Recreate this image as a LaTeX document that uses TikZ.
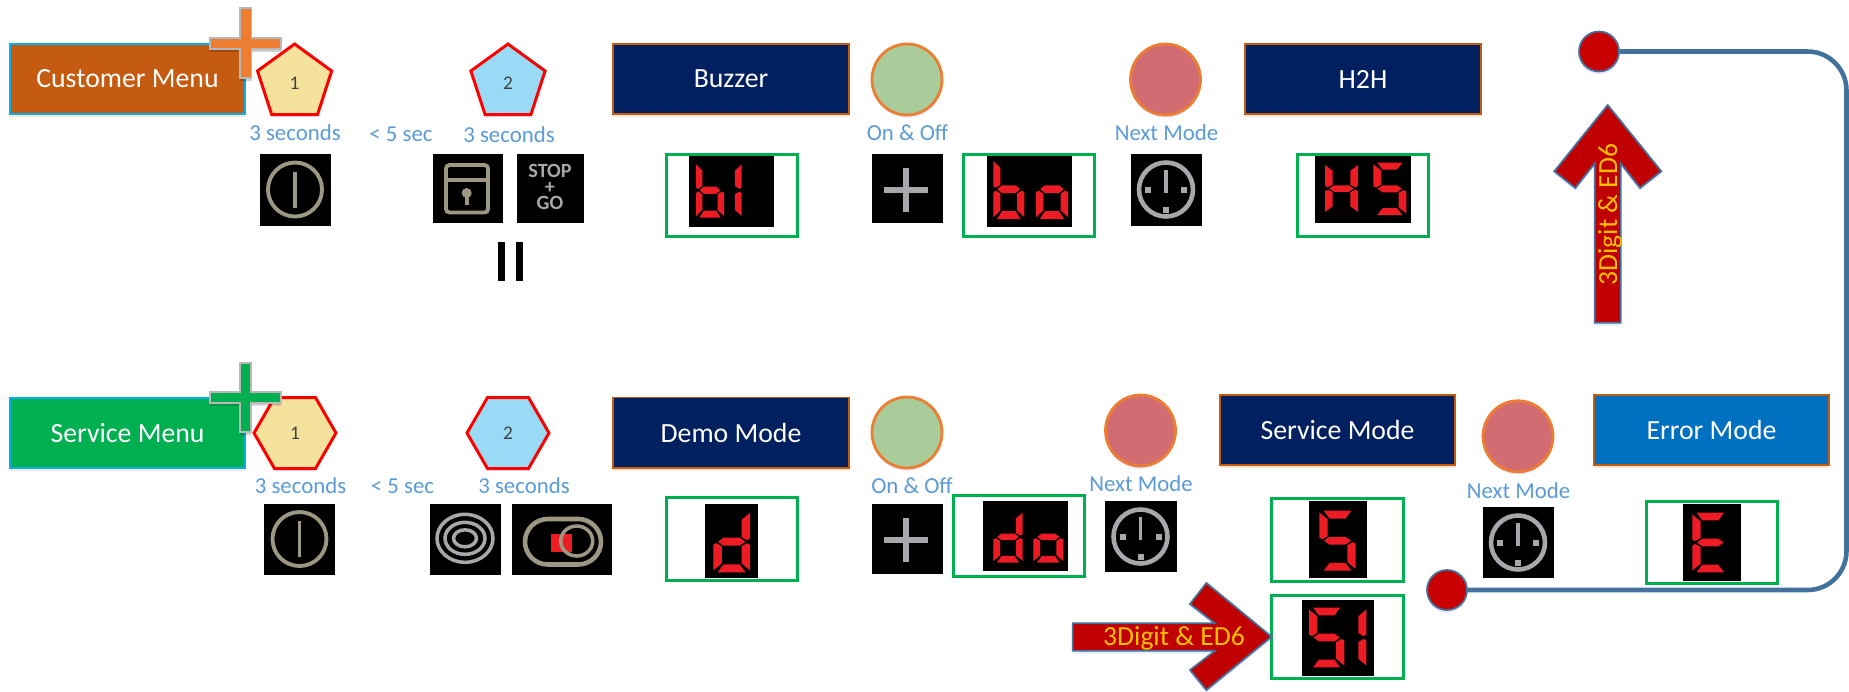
\documentclass[tikz,border=0pt]{standalone}
\usepackage{xcolor}
\usepackage{fontspec}
\setmainfont{Carlito}
\usepackage{tikz}
\usetikzlibrary{shapes,shadows}

\definecolor{custfill}{HTML}{C55A11}
\definecolor{servfill}{HTML}{00B050}
\definecolor{navyfill}{HTML}{002060}
\definecolor{errfill}{HTML}{0070C0}
\definecolor{menuline}{HTML}{00B0F0}
\definecolor{plusorange}{HTML}{ED7D31}
\definecolor{yellowfill}{HTML}{F4E29D}
\definecolor{bluefill}{HTML}{99DBF6}
\definecolor{greenfill}{HTML}{A9CC9A}
\definecolor{rosefill}{HTML}{D16D72}
\definecolor{labelblue}{HTML}{5B9BD5}
\definecolor{steelline}{HTML}{41719C}
\definecolor{arrowred}{HTML}{C00000}
\definecolor{arrowtext}{HTML}{FFC000}
\definecolor{dotred}{HTML}{C80000}
\definecolor{segred}{HTML}{ED1C24}
\definecolor{icontan}{HTML}{9C9884}
\definecolor{icongray}{HTML}{A8A8AC}

\tikzset{
    softshadow/.style={drop shadow={shadow xshift=0pt,shadow yshift=-1.6pt,opacity=.18,fill=#1}},
    menubox/.style={draw=menuline,line width=1pt,text=white,font=\fontsize{15.8}{18}\selectfont,softshadow=orange},
    modebox/.style={draw=custfill,line width=1pt,text=white,font=\fontsize{15.8}{18}\selectfont,softshadow=orange},
    crossbar/.style={draw=black!28,line width=1pt,softshadow=black},
    keypoly/.style={regular polygon,draw=red,line width=1.7pt,inner sep=0pt,text=black!75,font=\fontsize{11}{13}\selectfont,softshadow=blue!50},
    keycircle/.style={ellipse,draw=plusorange,line width=1.6pt,minimum width=1.4cm,minimum height=1.42cm,inner sep=0pt,softshadow=blue!50},
    timelabel/.style={text=labelblue,inner sep=0pt,font=\fontsize{13}{15}\selectfont},
    iconbg/.style={fill=black},
    iconline/.style={draw=#1,line width=2.2pt},
    greenframe/.style={draw=servfill,line width=1.7pt},
    dotnode/.style={circle,draw=steelline,fill=dotred,line width=1pt,minimum size=.8cm,inner sep=0pt,softshadow=blue!50},
    bigarrow/.style={draw=steelline,fill=arrowred,line width=1pt,softshadow=blue!50},
    arrowlabel/.style={text=arrowtext,inner sep=0pt,font=\fontsize{15.7}{18}\selectfont},
    linkline/.style={draw=steelline,line width=2.6pt,rounded corners=.78cm},
}

% segments of a display digit, 10 wide and 20 high
\newcommand{\sega}{\fill[segred] (1.2,0) -- (8.8,0) -- (7.2,2.6) -- (2.8,2.6) -- cycle;}
\newcommand{\segb}{\fill[segred] (10,.6) -- (7.7,2.9) -- (7.7,8.5) -- (9.2,9.5) -- (10,9) -- cycle;}
\newcommand{\segc}{\fill[segred] (9.2,10.5) -- (7.7,11.5) -- (7.7,17.1) -- (10,19.4) -- (10,11) -- cycle;}
\newcommand{\segd}{\fill[segred] (2.8,17.4) -- (7.2,17.4) -- (8.8,20) -- (1.2,20) -- cycle;}
\newcommand{\sege}{\fill[segred] (.8,10.5) -- (2.3,11.5) -- (2.3,17.1) -- (0,19.4) -- (0,11) -- cycle;}
\newcommand{\segf}{\fill[segred] (0,.6) -- (2.3,2.9) -- (2.3,8.5) -- (.8,9.5) -- (0,9) -- cycle;}
\newcommand{\segg}{\fill[segred] (1.3,10) -- (2.8,8.7) -- (7.2,8.7) -- (8.7,10) -- (7.2,11.3) -- (2.8,11.3) -- cycle;}
\newcommand{\segdigit}[5]{
    \begin{scope}[shift={(#1,#2)},xscale=#3/10,yscale=#4/20]
        \foreach \s in {#5} {\csname seg\s\endcsname}
    \end{scope}
}
\newcommand{\powericon}[2]{
    \draw[iconline=icontan] (#1,#2) circle (27);
    \draw[iconline=icontan] (#1,#2-18) -- (#1,#2+18);
}
\newcommand{\clockicon}[2]{
    \draw[iconline=icongray,line width=2.6pt] (#1,#2) circle (27);
    \draw[iconline=icongray] (#1,#2-20) -- (#1,#2+3);
    \fill[icongray] (#1-21,#2-3) rectangle (#1-15,#2+3);
    \fill[icongray] (#1+15,#2-3) rectangle (#1+21,#2+3);
    \fill[icongray] (#1-3,#2+17) rectangle (#1+3,#2+23);
}
\newcommand{\plusicon}[2]{
    \draw[draw=icongray,line width=3.4pt] (#1-22,#2) -- (#1+22,#2);
    \draw[draw=icongray,line width=3.4pt] (#1,#2-22) -- (#1,#2+22);
}

\begin{document}
\begin{tikzpicture}[x=0.02cm,y=-0.02cm]
    \useasboundingbox (0,0) rectangle (1849,691);

    % customer row
    \draw[menubox,fill=custfill] (10,44) rectangle (245,114) node[pos=.5] (custmenu) {Customer Menu};
    \node[keypoly,regular polygon sides=5,minimum size=1.56cm,fill=yellowfill] (custkeya) at (294.6,83) {1};
    \node[keypoly,regular polygon sides=5,minimum size=1.56cm,fill=bluefill] (custkeyb) at (508,83) {2};
    \draw[crossbar,fill=plusorange] (240,8.3) -- (251.5,8.3) -- (251.5,38) -- (281,38) -- (281,49) -- (251.5,49)
        -- (251.5,78.3) -- (240,78.3) -- (240,49) -- (210,49) -- (210,38) -- (240,38) -- cycle;

    \node[timelabel] (custseca) at (295,132.5) {3 seconds};
    \node[timelabel] (custshort) at (401,134.5) {< 5 sec};
    \node[timelabel] (custsecb) at (509,135) {3 seconds};

    \draw[iconbg] (260,154) rectangle (330,225) node[pos=.5] (custpower) {};
    \powericon{295}{189.5}
    \draw[iconbg] (433,154) rectangle (502,222) node[pos=.5] (custlock) {};
    \draw[iconline=icontan,rounded corners=2pt] (446,165) rectangle (488,212.5);
    \draw[iconline=icontan] (446,180) -- (488,180);
    \fill[icontan] (466.7,193) circle (5);
    \draw[iconline=icontan] (466.7,193) -- (466.7,205);
    \draw[iconbg] (517,154) rectangle (583,222) node[pos=.5,yshift=.5pt,align=center,text=icongray,inner sep=0pt,
        font=\fontsize{11.5}{9}\selectfont\bfseries] (custstop) {STOP\\+\\GO};
    \fill[black] (498,242) rectangle (505,281);
    \fill[black] (516,242) rectangle (523,281);

    \draw[modebox,fill=navyfill] (613,44) rectangle (849,114) node[pos=.5] (buzzer) {Buzzer};
    \draw[greenframe] (666,154) rectangle (797,236.5) node[pos=.5] (buzzframe) {};
    \draw[iconbg] (689,156) rectangle (773,226) node[pos=.5] (buzzshow) {};
    \segdigit{696}{162.7}{28}{55}{e,f,g,c,d}
    \segdigit{711.7}{162.7}{30}{55}{b,c}

    \node[keycircle,fill=greenfill] (buzzkey) at (907,79.5) {};
    \node[timelabel] (buzzonoff) at (907.5,132.5) {On \& Off};
    \draw[iconbg] (872,154) rectangle (942,222.5) node[pos=.5] (buzzplus) {};
    \plusicon{906}{190}

    \draw[greenframe] (963,154) rectangle (1094,236.5) node[pos=.5] (boframe) {};
    \draw[iconbg] (987,156) rectangle (1071,226) node[pos=.5] (boshow) {};
    \segdigit{993.3}{159.3}{31}{59.7}{e,f,g,c,d}
    \segdigit{1036}{159.3}{32}{59.7}{g,c,d,e}

    \node[keycircle,fill=rosefill] (custnext) at (1165.5,79.5) {};
    \node[timelabel] (custnexttext) at (1166.5,132.5) {Next Mode};
    \draw[iconbg] (1131,154) rectangle (1201,225) node[pos=.5] (custclock) {};
    \clockicon{1166}{189.5}

    \draw[modebox,fill=navyfill] (1245,44) rectangle (1481,114) node[pos=.5] (htoh) {H2H};
    \draw[greenframe] (1297.5,154) rectangle (1428,236) node[pos=.5] (hframe) {};
    \draw[iconbg] (1315,156) rectangle (1410.7,222) node[pos=.5] (hshow) {};
    \segdigit{1325}{163.5}{33}{50}{b,c,e,f,g}
    \segdigit{1373.3}{162.7}{33}{52.3}{a,f,g,c,d}

    % service row
    \draw[menubox,fill=servfill] (10,397.7) rectangle (245,468) node[pos=.5] (servmenu) {Service Menu};
    \node[keypoly,regular polygon sides=6,minimum size=1.64cm,fill=yellowfill] (servkeya) at (295,433) {1};
    \node[keypoly,regular polygon sides=6,minimum size=1.64cm,fill=bluefill] (servkeyb) at (508,433) {2};
    \draw[crossbar,fill=servfill] (240,362.7) -- (250.7,362.7) -- (250.7,391.7) -- (281,391.7) -- (281,402.7) -- (250.7,402.7)
        -- (250.7,432.3) -- (240,432.3) -- (240,402.7) -- (210,402.7) -- (210,391.7) -- (240,391.7) -- cycle;

    \node[timelabel] (servseca) at (300.5,486) {3 seconds};
    \node[timelabel] (servshort) at (402.5,486) {< 5 sec};
    \node[timelabel] (servsecb) at (524,486) {3 seconds};

    \draw[iconbg] (264,504) rectangle (334,574) node[pos=.5] (servpower) {};
    \powericon{299.5}{539}
    \draw[iconbg] (430,504) rectangle (500,574) node[pos=.5] (servrings) {};
    \draw[iconline=icongray,line width=2pt] (465,538.3) ellipse (28 and 24);
    \draw[iconline=icongray,line width=2pt] (465,538.3) ellipse (20 and 16);
    \draw[iconline=icongray,line width=2pt] (465,538.3) ellipse (11.5 and 8.5);
    \draw[iconbg] (512,504) rectangle (611,574) node[pos=.5] (servtoggle) {};
    \draw[iconline=icontan,line width=2.6pt,rounded corners=13pt] (525,519) rectangle (601,564.5);
    \fill[segred] (551,534) rectangle (572.3,551.7);
    \draw[iconline=icontan,line width=2pt] (576.7,541) ellipse (16 and 15);

    \draw[modebox,fill=navyfill] (613,397.5) rectangle (849,467.7) node[pos=.5] (demo) {Demo Mode};
    \draw[greenframe] (666,497.7) rectangle (797,580.5) node[pos=.5] (demoframe) {};
    \draw[iconbg] (705,504) rectangle (757,577.7) node[pos=.5] (demoshow) {};
    \segdigit{713.3}{511}{36.7}{61.3}{b,c,d,e,g}

    \node[keycircle,fill=greenfill] (demokey) at (907,432.5) {};
    \node[timelabel] (demoonoff) at (912,485.5) {On \& Off};
    \draw[iconbg] (872,504) rectangle (942,573) node[pos=.5] (demoplus) {};
    \plusicon{906}{540}

    \draw[greenframe] (953.3,495) rectangle (1084,576.7) node[pos=.5] (doframe) {};
    \draw[iconbg] (983,501) rectangle (1067,570) node[pos=.5] (doshow) {};
    \segdigit{993.3}{511}{29.4}{51.7}{b,c,d,e,g}
    \segdigit{1033.3}{511}{30}{51.7}{g,c,d,e}

    \node[keycircle,fill=rosefill] (demonext) at (1140.5,430.5) {};
    \node[timelabel] (demonexttext) at (1141,484) {Next Mode};
    \draw[iconbg] (1105,501) rectangle (1176,571.7) node[pos=.5] (democlock) {};
    \clockicon{1140.5}{536.5}

    \draw[modebox,fill=navyfill] (1220,395) rectangle (1455,465.3) node[pos=.5] (service) {Service Mode};
    \draw[greenframe] (1271.7,498.3) rectangle (1403.3,581) node[pos=.5] (sframe) {};
    \draw[iconbg] (1309,501) rectangle (1366,577.7) node[pos=.5] (sshow) {};
    \segdigit{1319.3}{510.7}{36.4}{60}{a,f,g,c,d}
    \draw[greenframe] (1271.7,595.7) rectangle (1403.3,678.3) node[pos=.5] (soneframe) {};
    \draw[iconbg] (1302,600) rectangle (1373,675) node[pos=.5] (soneshow) {};
    \segdigit{1309}{607.7}{35.3}{59.6}{a,f,g,c,d}
    \segdigit{1331.3}{607.7}{35}{59.6}{b,c}

    \node[keycircle,fill=rosefill] (servnext) at (1518,436.3) {};
    \node[timelabel] (servnexttext) at (1518.6,490.7) {Next Mode};
    \draw[iconbg] (1483,507) rectangle (1553,577.7) node[pos=.5] (servclock) {};
    \clockicon{1518}{542.5}

    \draw[modebox,fill=errfill] (1594,395) rectangle (1829,465.3) node[pos=.5] (error) {Error Mode};
    \draw[greenframe] (1646.7,501) rectangle (1777.3,583.3) node[pos=.5] (eframe) {};
    \draw[iconbg] (1683.3,504) rectangle (1740,580) node[pos=.5] (eshow) {};
    \segdigit{1692.3}{512.7}{36}{59.6}{a,d,e,f,g}

    % link between the two dots
    \node[dotnode] (dottop) at (1599,51.5) {};
    \node[dotnode] (dotbottom) at (1447,590) {};
    \coordinate (linktop) at (1846.5,51.5);
    \coordinate (linkbottom) at (1846.5,590);
    \draw[linkline] (dotbottom.east) -- (linkbottom) -- (linktop) -- (dottop.east);

    % block arrows
    \draw[bigarrow] (1607.7,105) -- (1661.3,171.3) -- (1640,188) -- (1620.7,163.3) -- (1620.7,322.7) -- (1594.7,322.7)
        -- (1594.7,163.3) -- (1575.3,188) -- (1554.3,171.3) -- cycle;
    \node[arrowlabel,rotate=90] (uplabel) at (1610,214.5) {3Digit \& ED6};
    \draw[bigarrow] (1271.5,636.7) -- (1206.4,690) -- (1190,670) -- (1215,650.7) -- (1072.7,650.7) -- (1072.7,623.3)
        -- (1215,623.3) -- (1190,604) -- (1206.4,583) -- cycle;
    \node[arrowlabel] (rightlabel) at (1174,638) {3Digit \& ED6};
\end{tikzpicture}
\end{document}
